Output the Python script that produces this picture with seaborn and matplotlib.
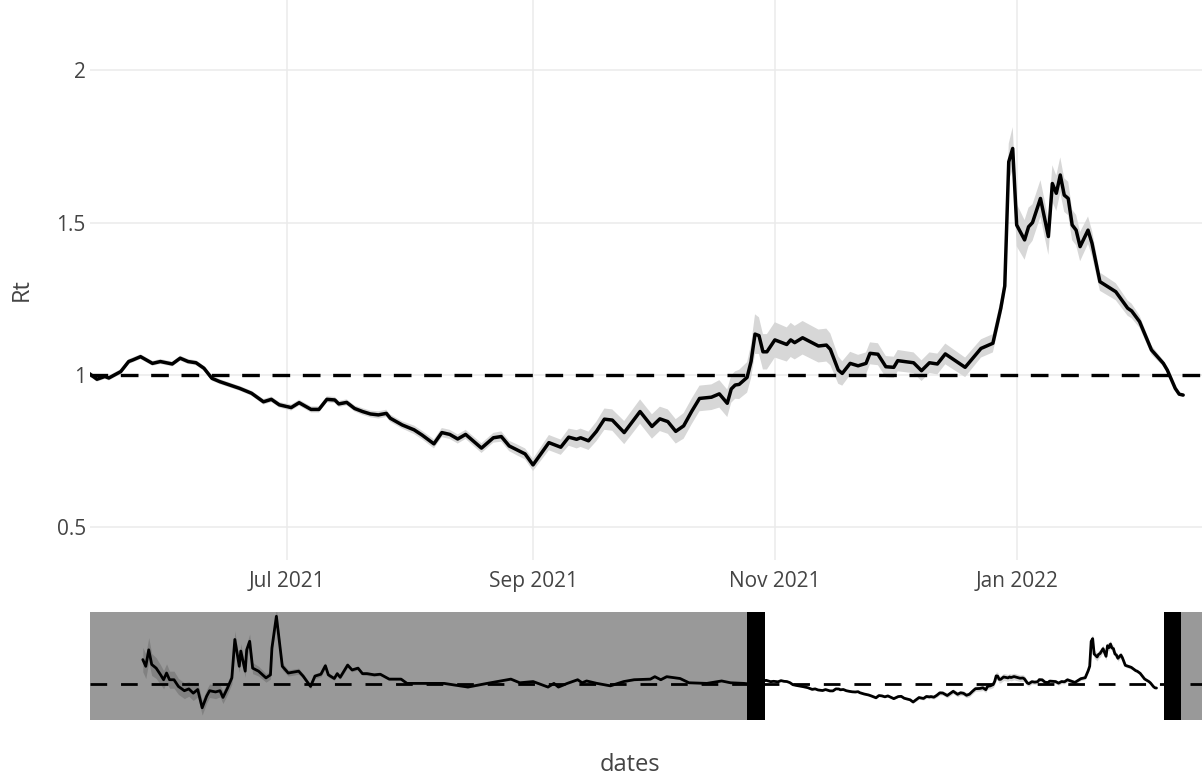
import matplotlib
matplotlib.use("Agg")
import matplotlib.pyplot as plt
import numpy as np
import pandas as pd
import seaborn as sns

# ---------------- data ----------------
early_dates = ["2020-03-31","2020-04-02","2020-04-04","2020-04-06","2020-04-09","2020-04-12","2020-04-14","2020-04-16","2020-04-18","2020-04-21",
               "2020-04-24","2020-04-28","2020-05-01","2020-05-04","2020-05-07","2020-05-10","2020-05-13","2020-05-15","2020-05-19","2020-05-22",
               "2020-05-24","2020-05-27","2020-05-30","2020-06-01","2020-06-04","2020-06-05","2020-06-08","2020-06-09","2020-06-11","2020-06-13",
               "2020-06-17","2020-06-22","2020-06-25","2020-06-26","2020-06-29","2020-07-03","2020-07-07","2020-07-14","2020-07-17","2020-07-22",
               "2020-07-25","2020-07-29","2020-08-01","2020-08-03","2020-08-07","2020-08-09","2020-08-11","2020-08-16","2020-08-19","2020-08-23",
               "2020-08-26","2020-08-29","2020-09-03","2020-09-07","2020-09-13","2020-09-21","2020-09-25","2020-10-09","2020-10-20","2020-11-05",
               "2020-11-18","2020-12-04","2020-12-10","2020-12-19","2020-12-29","2021-01-02","2021-01-05","2021-01-11","2021-01-18","2021-01-21",
               "2021-01-24","2021-01-31","2021-02-09","2021-02-18","2021-02-25","2021-03-08","2021-03-11","2021-03-15","2021-03-19","2021-03-28",
               "2021-04-03","2021-04-15","2021-04-25","2021-05-01","2021-05-10"]
early_rt = [1.40,1.29,1.56,1.32,1.26,1.15,1.07,1.18,1.07,1.07,
            0.96,0.89,0.92,0.85,0.91,0.61,0.80,0.89,0.87,0.89,
            0.78,0.93,1.10,1.73,1.29,1.54,1.21,1.56,1.70,1.26,
            1.21,1.10,1.15,1.59,2.11,1.29,1.18,1.21,1.13,0.96,
            1.13,1.16,1.30,1.15,1.09,1.17,1.11,1.31,1.23,1.26,
            1.17,1.17,1.15,1.16,1.08,1.08,1.01,1.01,1.01,0.95,
            1.01,1.08,1.02,1.04,0.95,1.01,0.95,1.01,1.07,1.02,
            1.05,1.01,0.97,1.04,1.07,1.08,1.12,1.07,1.12,1.09,
            1.02,1.01,1.05,1.02,1.01]
early_ci = [0.20,0.20,0.20,0.18,0.17,0.16,0.15,0.15,0.14,0.14,
            0.13,0.13,0.12,0.12,0.12,0.12,0.11,0.11,0.11,0.10,
            0.10,0.10,0.10,0.14,0.10,0.12,0.10,0.10,0.12,0.09,
            0.08,0.07,0.07,0.09,0.12,0.06,0.05,0.05,0.04,0.04,
            0.04,0.04,0.05,0.04,0.03,0.03,0.03,0.04,0.03,0.03,
            0.03,0.03,0.025,0.025,0.02,0.02,0.02,0.02,0.02,0.015,
            0.015,0.015,0.015,0.015,0.015,0.015,0.015,0.015,0.015,0.015,
            0.015,0.015,0.015,0.015,0.015,0.015,0.015,0.015,0.015,0.012,
            0.012,0.012,0.01,0.01,0.01]

recent_dates = ["2021-05-12","2021-05-14","2021-05-16","2021-05-17","2021-05-20","2021-05-22","2021-05-23","2021-05-25","2021-05-28","2021-05-30",
                "2021-06-02","2021-06-04","2021-06-06","2021-06-08","2021-06-10","2021-06-12","2021-06-14","2021-06-19","2021-06-22","2021-06-25","2021-06-27","2021-06-29",
                "2021-07-02","2021-07-04","2021-07-07","2021-07-09","2021-07-11","2021-07-13","2021-07-14","2021-07-16","2021-07-18","2021-07-20","2021-07-22","2021-07-24","2021-07-26","2021-07-27","2021-07-30",
                "2021-08-02","2021-08-04","2021-08-07","2021-08-09","2021-08-11","2021-08-13","2021-08-15","2021-08-19","2021-08-22","2021-08-24","2021-08-26","2021-08-28","2021-08-30",
                "2021-09-01","2021-09-05","2021-09-08","2021-09-10","2021-09-12","2021-09-13","2021-09-15","2021-09-17","2021-09-19","2021-09-21","2021-09-24","2021-09-28",
                "2021-10-01","2021-10-03","2021-10-05","2021-10-07","2021-10-09","2021-10-11","2021-10-13","2021-10-16","2021-10-18","2021-10-20","2021-10-21","2021-10-22","2021-10-23","2021-10-25","2021-10-26","2021-10-27","2021-10-28","2021-10-29","2021-10-30",
                "2021-11-01","2021-11-04","2021-11-05","2021-11-06","2021-11-08","2021-11-12","2021-11-14","2021-11-15","2021-11-17","2021-11-18","2021-11-20","2021-11-22","2021-11-24","2021-11-25","2021-11-27","2021-11-29",
                "2021-12-01","2021-12-02","2021-12-06","2021-12-08","2021-12-10","2021-12-12","2021-12-14","2021-12-19","2021-12-23","2021-12-26","2021-12-28","2021-12-29","2021-12-30","2021-12-31",
                "2022-01-01","2022-01-03","2022-01-04","2022-01-05","2022-01-07","2022-01-09","2022-01-10","2022-01-11","2022-01-12","2022-01-13","2022-01-14","2022-01-15","2022-01-16","2022-01-17","2022-01-19","2022-01-20","2022-01-22","2022-01-26","2022-01-29","2022-01-30",
                "2022-02-01","2022-02-04","2022-02-07","2022-02-08","2022-02-10","2022-02-11","2022-02-12"]
recent_rt = [1.005,0.986,0.995,0.99,1.011,1.044,1.049,1.06,1.038,1.044,
             1.036,1.055,1.044,1.04,1.022,0.989,0.978,0.956,0.94,0.912,0.92,0.902,
             0.893,0.909,0.887,0.887,0.92,0.918,0.905,0.91,0.89,0.88,0.872,0.869,0.874,0.858,0.836,
             0.82,0.803,0.774,0.811,0.805,0.79,0.805,0.76,0.794,0.798,0.767,0.754,0.741,
             0.705,0.778,0.763,0.796,0.789,0.794,0.784,0.815,0.855,0.852,0.811,0.88,
             0.831,0.856,0.847,0.815,0.833,0.88,0.923,0.927,0.938,0.907,0.954,0.967,0.969,0.992,1.044,1.134,1.129,1.076,1.076,
             1.115,1.10,1.115,1.106,1.122,1.095,1.098,1.084,1.016,1.005,1.038,1.03,1.038,1.071,1.068,1.027,
             1.025,1.047,1.04,1.014,1.04,1.036,1.069,1.025,1.087,1.104,1.219,1.292,1.699,1.743,
             1.492,1.443,1.486,1.50,1.579,1.454,1.628,1.596,1.656,1.59,1.579,1.492,1.475,1.421,1.475,1.432,1.306,1.273,1.219,1.21,
             1.175,1.082,1.038,1.016,0.956,0.937,0.934]
recent_ci = [0.008,0.008,0.008,0.008,0.008,0.008,0.008,0.008,0.008,0.008,
             0.008,0.008,0.008,0.008,0.008,0.008,0.008,0.008,0.008,0.009,0.009,0.009,
             0.01,0.01,0.01,0.01,0.01,0.01,0.01,0.01,0.01,0.011,0.011,0.012,0.012,0.012,0.012,
             0.014,0.014,0.015,0.015,0.015,0.015,0.015,0.016,0.016,0.017,0.017,0.018,0.018,
             0.02,0.025,0.025,0.028,0.03,0.03,0.03,0.032,0.035,0.035,0.038,0.04,
             0.04,0.04,0.04,0.04,0.042,0.042,0.042,0.042,0.045,0.045,0.045,0.045,0.048,0.05,0.055,0.065,0.06,0.058,0.058,
             0.058,0.056,0.056,0.055,0.055,0.054,0.054,0.052,0.045,0.04,0.038,0.036,0.036,0.036,0.036,0.035,
             0.035,0.035,0.034,0.034,0.034,0.034,0.034,0.032,0.03,0.03,0.03,0.03,0.06,0.07,
             0.07,0.065,0.063,0.06,0.06,0.06,0.06,0.058,0.058,0.055,0.055,0.05,0.05,0.048,0.045,0.042,0.03,0.028,0.025,0.024,
             0.02,0.015,0.01,0.008,0.006,0.005,0.005]

threshold = 1.0
x_ticks = ["2021-07-01", "2021-09-01", "2021-11-01", "2022-01-01"]
x_ticklabels = ["Jul 2021", "Sep 2021", "Nov 2021", "Jan 2022"]
y_ticks = [0.5, 1, 1.5, 2]
y_ticklabels = ["0.5", "1", "1.5", "2"]
window = ["2021-05-12 06:00", "2022-02-16 18:00"]
full_range = ["2020-02-24 10:00", "2022-03-14 16:00"]

df = pd.DataFrame({
    "dates": pd.to_datetime(early_dates + recent_dates),
    "Rt": early_rt + recent_rt,
    "ci": early_ci + recent_ci,
})
df["lo"] = df["Rt"] - df["ci"]
df["hi"] = df["Rt"] + df["ci"]

# ---------------- style ----------------
sns.set_theme(style="white")
plt.rcParams["font.family"] = ["Open Sans", "DejaVu Sans"]

W, H = 1202, 783
fig = plt.figure(figsize=(W / 100, H / 100), dpi=100)
fig.patch.set_facecolor("white")

ax = fig.add_axes([90 / W, 1 - 560 / H, 1112 / W, 560 / H])
axs = fig.add_axes([90 / W, 1 - 720 / H, 1112 / W, 108 / H])

# ---------------- main panel ----------------
ax.fill_between(df["dates"], df["lo"], df["hi"], color="#d7d7d7", lw=0, zorder=2)
sns.lineplot(data=df, x="dates", y="Rt", ax=ax, color="black", lw=2.5,
             estimator=None, sort=False, zorder=3)
ax.axhline(threshold, color="black", lw=2.4, dashes=(5.3, 3.8), zorder=4)

ax.set_xlim(pd.Timestamp(window[0]), pd.Timestamp(window[1]))
ax.set_ylim(0.393, 2.23)
ax.set_xticks(pd.to_datetime(x_ticks))
ax.set_xticklabels(x_ticklabels)
ax.set_yticks(y_ticks)
ax.set_yticklabels(y_ticklabels)
ax.tick_params(axis="both", length=0, labelsize=15, colors="#444444")
ax.tick_params(axis="x", pad=8)
ax.tick_params(axis="y", pad=3)
ax.grid(True, color="#ebebeb", lw=1.1, zorder=0)
ax.set_axisbelow(True)
for s in ax.spines.values():
    s.set_visible(False)
ax.set_xlabel("")
ax.set_ylabel("")

# ---------------- range selector ----------------
axs.fill_between(df["dates"], df["lo"], df["hi"], color="#d7d7d7", lw=0, zorder=2)
sns.lineplot(data=df, x="dates", y="Rt", ax=axs, color="black", lw=2.0,
             estimator=None, sort=False, zorder=3)
axs.axhline(threshold, color="black", lw=2.0, dashes=(6, 5), zorder=4)
x0, x1 = pd.Timestamp(full_range[0]), pd.Timestamp(full_range[1])
w0, w1 = pd.Timestamp(window[0]), pd.Timestamp(window[1])
handle = pd.Timedelta(days=12)
axs.set_xlim(x0, x1)
axs.set_ylim(0.41, 2.18)
axs.axvspan(x0, w0, color="black", alpha=0.4, lw=0, zorder=5)
axs.axvspan(w1 + handle, x1, color="black", alpha=0.4, lw=0, zorder=5)
axs.axvspan(w0, w0 + handle, color="black", lw=0, zorder=6)
axs.axvspan(w1, w1 + handle, color="black", lw=0, zorder=6)
axs.set_xticks([])
axs.set_yticks([])
axs.set_xlabel("")
axs.set_ylabel("")
for s in axs.spines.values():
    s.set_visible(False)

# ---------------- axis titles ----------------
fig.text(630 / W, 1 - 765 / H, "dates", ha="center", va="center", fontsize=17, color="#444444")
fig.text(22 / W, 1 - 290 / H, "Rt", ha="center", va="center", rotation=90, fontsize=17, color="#444444")

fig.savefig("out.png", dpi=100, facecolor="white")
